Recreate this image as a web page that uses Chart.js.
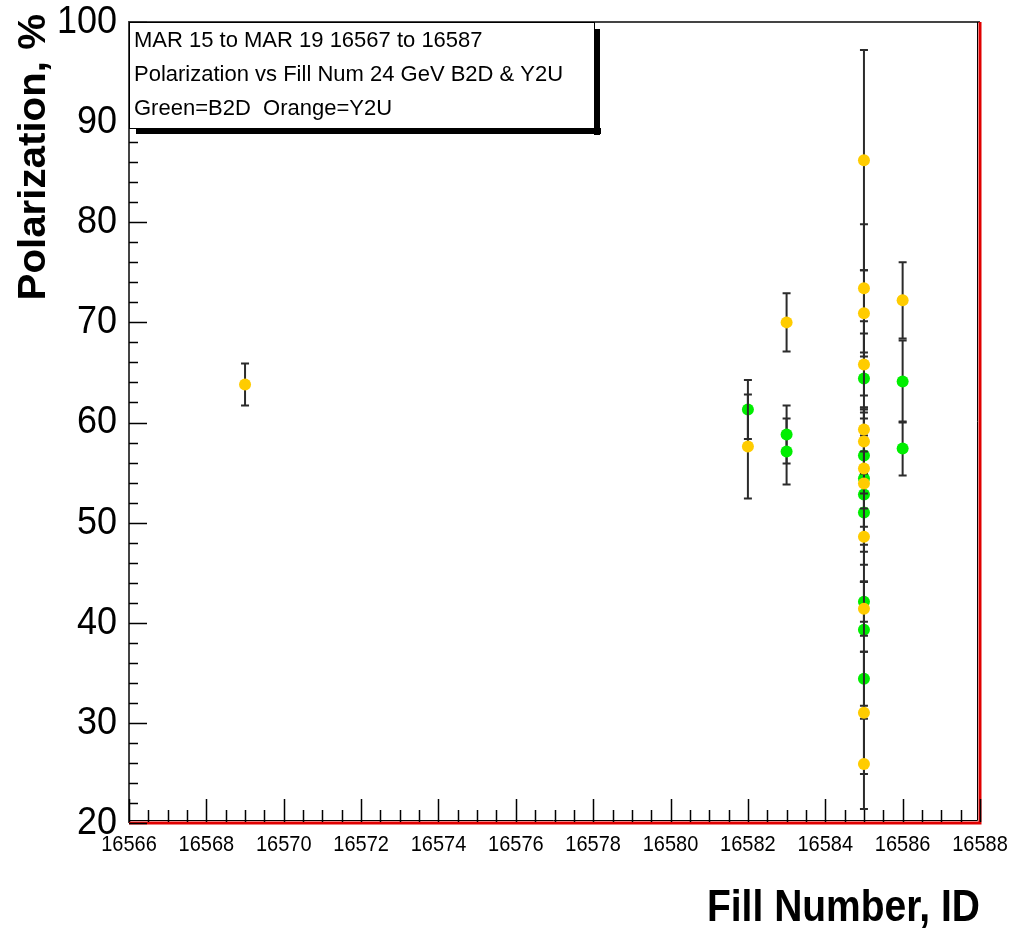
<!DOCTYPE html>
<html>
<head>
<meta charset="utf-8">
<script src="https://cdn.jsdelivr.net/npm/chart.js@4.4.7/dist/chart.umd.min.js"></script>
<style>
  html, body { margin: 0; padding: 0; background: #fff; }
  canvas { display: block; }
</style>
</head>
<body>
<canvas id="polChart" width="1009" height="930"></canvas>
<script>
// Y2U (orange) points
const y2uFill = [16569, 16582, 16583, 16585, 16585, 16585, 16585, 16585, 16585, 16585, 16585, 16585, 16585, 16585, 16585, 16586];
const y2uPol  = [63.8, 57.6, 70.0, 86.2, 73.4, 70.9, 65.8, 59.3, 58.1, 55.4, 53.9, 48.6, 41.4, 31.0, 25.9, 72.2];
const y2uErr  = [2.1, 5.2, 2.9, 11.0, 6.4, 4.3, 3.1, 2.2, 3.2, 2.5, 4.3, 2.8, 2.7, 6.1, 4.5, 3.8];

// B2D (green) points
const b2dFill = [16582, 16583, 16583, 16585, 16585, 16585, 16585, 16585, 16585, 16585, 16585, 16586, 16586];
const b2dPol  = [61.3, 58.8, 57.1, 64.4, 56.7, 54.4, 52.8, 51.0, 42.1, 39.3, 34.4, 64.1, 57.4];
const b2dErr  = [2.95, 2.9, 3.3, 5.7, 3.7, 6.6, 8.7, 3.9, 2.0, 4.8, 2.7, 4.1, 2.7];

// axis ticks
const xTicks = [16566, 16568, 16570, 16572, 16574, 16576, 16578, 16580, 16582, 16584, 16586, 16588];
const yTicks = [20, 30, 40, 50, 60, 70, 80, 90, 100];

const legendLines = [
  "MAR 15 to MAR 19 16567 to 16587",
  "Polarization vs Fill Num 24 GeV B2D & Y2U",
  "Green=B2D  Orange=Y2U"
];

const FONT = "'Liberation Sans', Arial, Helvetica, sans-serif";

function toPoints(xs, ys) {
  return xs.map((x, i) => ({ x: x, y: ys[i] }));
}

function stretchText(ctx, txt, x, y, font, align, sy) {
  ctx.save();
  ctx.translate(x, y);
  ctx.scale(1, sy);
  ctx.font = font;
  ctx.textAlign = align;
  ctx.textBaseline = "middle";
  ctx.fillStyle = "#000";
  ctx.fillText(txt, 0, 0);
  ctx.restore();
}

// error bars drawn right before each dataset's markers
const errorBars = {
  id: "errorBars",
  beforeDatasetDraw(chart, args) {
    const ds = chart.data.datasets[args.index];
    const xs = chart.scales.x, ys = chart.scales.y;
    const ctx = chart.ctx;
    ctx.save();
    ctx.strokeStyle = "#2b2b2b";
    ctx.lineWidth = 2;
    ds.data.forEach((p, i) => {
      const e = ds.errors[i];
      const px = xs.getPixelForValue(p.x);
      const top = ys.getPixelForValue(p.y + e);
      const bot = ys.getPixelForValue(p.y - e);
      ctx.beginPath();
      ctx.moveTo(px, top); ctx.lineTo(px, bot);
      ctx.moveTo(px - 4, top); ctx.lineTo(px + 4, top);
      ctx.moveTo(px - 4, bot); ctx.lineTo(px + 4, bot);
      ctx.stroke();
    });
    ctx.restore();
  }
};

// frame, ticks, labels, titles and the text box
const frameAndText = {
  id: "frameAndText",
  beforeDatasetsDraw(chart) {
    const ctx = chart.ctx;
    const a = chart.chartArea;
    const xs = chart.scales.x, ys = chart.scales.y;
    ctx.save();
    // frame
    ctx.strokeStyle = "#444";
    ctx.lineWidth = 2;
    ctx.beginPath();
    ctx.moveTo(a.left, a.bottom); ctx.lineTo(a.left, a.top); ctx.lineTo(a.right, a.top);
    ctx.stroke();
    ctx.strokeStyle = "#000";
    ctx.lineWidth = 1;
    ctx.beginPath();
    ctx.moveTo(a.left, a.bottom - 2.5); ctx.lineTo(a.right - 2.5, a.bottom - 2.5); ctx.lineTo(a.right - 2.5, a.top);
    ctx.stroke();
    ctx.strokeStyle = "#e00000";
    ctx.lineWidth = 3;
    ctx.beginPath();
    ctx.moveTo(a.left, a.bottom); ctx.lineTo(a.right, a.bottom); ctx.lineTo(a.right, a.top);
    ctx.stroke();

    // x ticks: major every 2, minor every 0.5
    ctx.strokeStyle = "#000";
    ctx.lineWidth = 1.5;
    ctx.beginPath();
    for (let v = xs.min; v <= xs.max + 1e-6; v += 0.5) {
      const px = Math.round(xs.getPixelForValue(v)) + 0.5;
      const len = xTicks.includes(v) ? 23 : 12;
      ctx.moveTo(px, a.bottom - 1); ctx.lineTo(px, a.bottom - 1 - len);
    }
    // y ticks: major every 10, minor every 2
    for (let v = ys.min; v <= ys.max + 1e-6; v += 2) {
      const py = Math.round(ys.getPixelForValue(v)) + 0.5;
      const len = yTicks.includes(v) ? 18 : 9;
      ctx.moveTo(a.left, py); ctx.lineTo(a.left + len, py);
    }
    ctx.stroke();

    // tick labels
    xTicks.forEach(v => {
      stretchText(ctx, String(v), xs.getPixelForValue(v), 845, "20px " + FONT, "center", 1.1);
    });
    yTicks.forEach(v => {
      stretchText(ctx, String(v), 117, ys.getPixelForValue(v), "36px " + FONT, "right", 1.1);
    });

    // axis titles
    stretchText(ctx, "Fill Number, ID", 980, 909, "bold 39px " + FONT, "right", 1.12);
    ctx.save();
    ctx.translate(35, 14);
    ctx.rotate(-Math.PI / 2);
    ctx.scale(1.06, 1);
    ctx.font = "bold 38px " + FONT;
    ctx.textAlign = "right";
    ctx.textBaseline = "middle";
    ctx.fillStyle = "#000";
    ctx.fillText("Polarization, %", 0, 0);
    ctx.restore();
    ctx.restore();
  },
  afterDatasetsDraw(chart) {
    const ctx = chart.ctx;
    const a = chart.chartArea;
    ctx.save();
    const bx = a.left, by = a.top, bw = 465, bh = 106;
    ctx.fillStyle = "#000";
    ctx.fillRect(bx + 7, by + bh, bw, 6);
    ctx.fillRect(bx + bw, by + 7, 6, bh);
    ctx.fillStyle = "#fff";
    ctx.fillRect(bx, by, bw, bh);
    ctx.strokeStyle = "#000";
    ctx.lineWidth = 1;
    ctx.strokeRect(bx + 0.5, by + 0.5, bw, bh);
    legendLines.forEach((t, i) => {
      stretchText(ctx, t, bx + 5, by + 19 + i * 34, "22px " + FONT, "left", 1.0);
    });
    ctx.restore();
  }
};

new Chart(document.getElementById("polChart"), {
  type: "scatter",
  data: {
    datasets: [
      {
        label: "Y2U",
        data: toPoints(y2uFill, y2uPol),
        errors: y2uErr,
        backgroundColor: "#ffcc00",
        borderColor: "#ffcc00",
        pointRadius: 6,
        borderWidth: 0,
        order: 1
      },
      {
        label: "B2D",
        data: toPoints(b2dFill, b2dPol),
        errors: b2dErr,
        backgroundColor: "#00ee00",
        borderColor: "#00ee00",
        pointRadius: 6,
        borderWidth: 0,
        order: 2
      }
    ]
  },
  options: {
    responsive: false,
    devicePixelRatio: 1,
    animation: false,
    layout: { padding: { left: 129, right: 29, top: 22, bottom: 107 } },
    plugins: { legend: { display: false }, tooltip: { enabled: false } },
    scales: {
      x: { type: "linear", min: 16566, max: 16588, display: false },
      y: { type: "linear", min: 20, max: 100, display: false }
    }
  },
  plugins: [errorBars, frameAndText]
});
</script>
</body>
</html>
